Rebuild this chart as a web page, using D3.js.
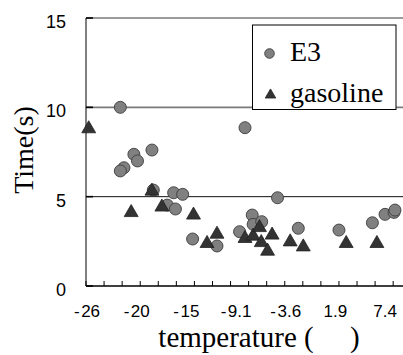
<!DOCTYPE html>
<html>
<head>
<meta charset="utf-8">
<script src="https://cdn.jsdelivr.net/npm/d3@7"></script>
<style>
  html, body { margin: 0; padding: 0; background: #fff; }
  svg { display: block; }
</style>
</head>
<body>
<svg id="chart" width="403" height="355"></svg>
<script>
// E3 series (temperature, time)
const e3Temp = [-21.8, -18.3, -20.3, -19.9, -21.4, -21.8, -8.0, -18.15, -15.9, -14.9, -16.6, -15.7, -13.8, -11.1, -8.6, -7.2, -7.1, -6.15, -4.4, -2.1, 2.4, 6.1, 7.5, 8.5, 8.6]
const e3Time = [10.0, 7.61, 7.37, 7.0, 6.62, 6.44, 8.86, 5.37, 5.22, 5.13, 4.53, 4.31, 2.63, 2.24, 3.04, 3.97, 3.45, 3.6, 4.94, 3.23, 3.13, 3.54, 4.01, 4.12, 4.25]
// gasoline series
const gasTemp = [-25.3, -18.3, -20.6, -17.2, -13.7, -11.1, -12.2, -8.0, -7.1, -6.4, -6.2, -5.5, -5.0, -3.0, -1.55, 3.2, 6.6]
const gasTime = [8.8, 5.31, 4.11, 4.42, 3.97, 2.9, 2.38, 2.66, 2.79, 3.27, 2.43, 1.95, 2.85, 2.47, 2.19, 2.38, 2.38]

const xLabels = [-25.6, -20.1, -14.6, -9.1, -3.6, 1.9, 7.4]
const xMinor = d3.range(-25.6, 12.4, 2)
const yTicks = [0, 5, 10, 15]
const seriesNames = ["E3", "gasoline"]

const svg = d3.select("#chart")
const x = d3.scaleLinear().domain([-25.6, 12.4]).range([86, 429.3])
const y = d3.scaleLinear().domain([0, 15]).range([286, 18])
const fmt = d3.format(".2r")

// gridlines (5 is dark, 10/15 grey)
svg.append("g")
  .selectAll("line")
  .data(yTicks.filter((d) => d > 0))
  .enter()
  .append("line")
  .attr("x1", x.range()[0])
  .attr("x2", 403)
  .attr("y1", (d) => y(d))
  .attr("y2", (d) => y(d))
  .attr("stroke", (d) => (d === 5 ? "#111" : "#7a7a7a"))
  .attr("stroke-width", (d) => (d === 5 ? 1 : 1.6))

// y axis
svg.append("line")
  .attr("x1", 86).attr("x2", 86)
  .attr("y1", y(15)).attr("y2", y(0))
  .attr("stroke", "#000")
svg.append("g")
  .selectAll("line")
  .data(yTicks)
  .enter()
  .append("line")
  .attr("x1", 86).attr("x2", 93)
  .attr("y1", (d) => y(d)).attr("y2", (d) => y(d))
  .attr("stroke", "#000")
  .attr("stroke-width", 1.6)
svg.append("g")
  .selectAll("text")
  .data(yTicks)
  .enter()
  .append("text")
  .attr("x", 66)
  .attr("y", (d) => y(d) + 3.5)
  .attr("dy", "0.36em")
  .attr("text-anchor", "end")
  .style("font-family", "'Liberation Sans', Arial, sans-serif")
  .style("font-size", "18px")
  .text((d) => d)

// x axis
svg.append("line")
  .attr("x1", 86).attr("x2", 403)
  .attr("y1", y(0)).attr("y2", y(0))
  .attr("stroke", "#000")
  .attr("stroke-width", 1.4)
svg.append("g")
  .selectAll("line")
  .data(xMinor)
  .enter()
  .append("line")
  .attr("x1", (d) => x(d)).attr("x2", (d) => x(d))
  .attr("y1", y(0) - 5).attr("y2", y(0))
  .attr("stroke", "#000")
const xl = svg.append("g")
  .selectAll("text")
  .data(xLabels)
  .enter()
  .append("text")
  .attr("x", (d) => x(d) + 1)
  .attr("y", 316.5)
  .attr("text-anchor", "middle")
  .style("font-family", "'Liberation Sans', Arial, sans-serif")
  .style("font-size", "17px")
xl.filter((d) => d < 0).append("tspan").text("-")
xl.append("tspan")
  .attr("dx", (d) => (d < 0 ? 1.5 : 0))
  .text((d) => fmt(Math.abs(d)))

// axis titles
svg.append("text")
  .attr("transform", "translate(33,150) rotate(-90)")
  .attr("text-anchor", "middle")
  .style("font-family", "'Liberation Serif', 'Times New Roman', serif")
  .style("font-size", "28px")
  .text("Time(s)")
svg.append("text")
  .attr("x", 259)
  .attr("y", 347)
  .attr("text-anchor", "middle")
  .style("font-family", "'Liberation Serif', 'Times New Roman', serif")
  .style("font-size", "29px")
  .text("temperature (\u2003\u2005)")

// points
const tri = d3.symbol().type(d3.symbolTriangle).size(84)
svg.append("g")
  .selectAll("circle")
  .data(e3Temp.map((t, i) => [t, e3Time[i]]))
  .enter()
  .append("circle")
  .attr("cx", (d) => x(d[0]))
  .attr("cy", (d) => y(d[1]))
  .attr("r", 6)
  .attr("fill", "#808080")
  .attr("stroke", "#3c3c3c")
  .attr("stroke-width", 0.9)
svg.append("g")
  .selectAll("path")
  .data(gasTemp.map((t, i) => [t, gasTime[i]]))
  .enter()
  .append("path")
  .attr("d", tri)
  .attr("transform", (d) => `translate(${x(d[0])},${y(d[1])})`)
  .attr("fill", "#333")
  .attr("stroke", "#222")
  .attr("stroke-width", 0.8)

// legend
const leg = svg.append("g")
leg.append("rect")
  .attr("x", 252.5).attr("y", 25)
  .attr("width", 143.5).attr("height", 84.5)
  .attr("fill", "#fff")
  .attr("stroke", "#000")
leg.append("circle")
  .attr("cx", 269.5).attr("cy", 53.5).attr("r", 4.8)
  .attr("fill", "#808080").attr("stroke", "#3c3c3c").attr("stroke-width", 0.9)
leg.append("path")
  .attr("d", d3.symbol().type(d3.symbolTriangle).size(48))
  .attr("transform", "translate(270.5,95)")
  .attr("fill", "#333").attr("stroke", "#222").attr("stroke-width", 0.8)
leg.selectAll("text")
  .data(seriesNames)
  .enter()
  .append("text")
  .attr("x", 290)
  .attr("y", (d, i) => 60.5 + i * 41.5)
  .style("font-family", "'Liberation Serif', 'Times New Roman', serif")
  .style("font-size", "28px")
  .text((d) => d)
</script>
</body>
</html>
